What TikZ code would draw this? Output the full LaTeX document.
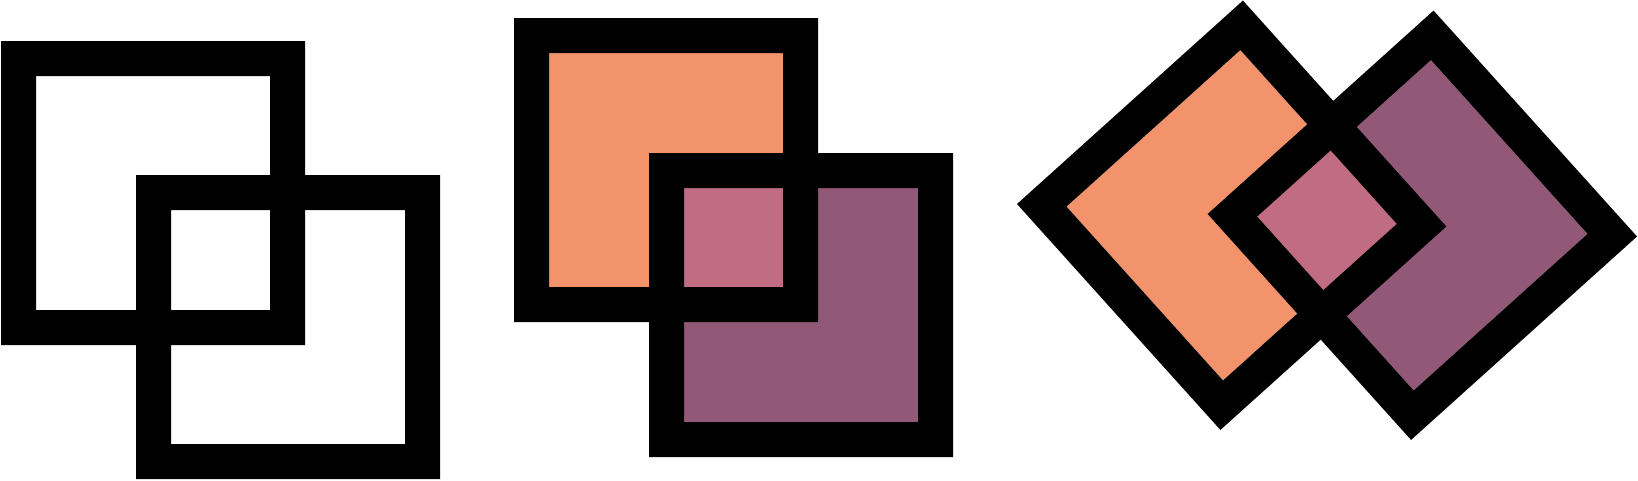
\documentclass[tikz,border=0pt]{standalone}
\definecolor{cOrange}{RGB}{242,147,107}
\definecolor{cPink}{RGB}{192,109,132}
\definecolor{cPurple}{RGB}{145,89,119}
\tikzset{
  ringfill/.style={fill=black,even odd rule},
  ring/.pic={\fill[ringfill] (0,0) rectangle (304,304) (35,35) rectangle (269,269);},
  pair/.pic={
    \fill[cOrange] (35,35) rectangle (269,269);
    \fill[cPurple] (170,170) rectangle (404,404);
    \fill[cPink] (170,170) rectangle (269,269);
    \fill[ringfill] (0,0) rectangle (304,304) (35,35) rectangle (269,269);
    \fill[ringfill] (135,135) rectangle (439,439) (170,170) rectangle (404,404);
  }
}
\begin{document}
\begin{tikzpicture}[x=1pt,y=-1pt]
\useasboundingbox (0,0) rectangle (1638,480);
% figure 1: two plain rings
\pic at (1,41) {ring};
\pic at (136,175) {ring};
% figure 2: coloured pair
\pic at (514,18) {pair};
% figure 3: rotated coloured pair
\pic[rotate=42] at (1017,204) {pair};
\end{tikzpicture}
\end{document}
